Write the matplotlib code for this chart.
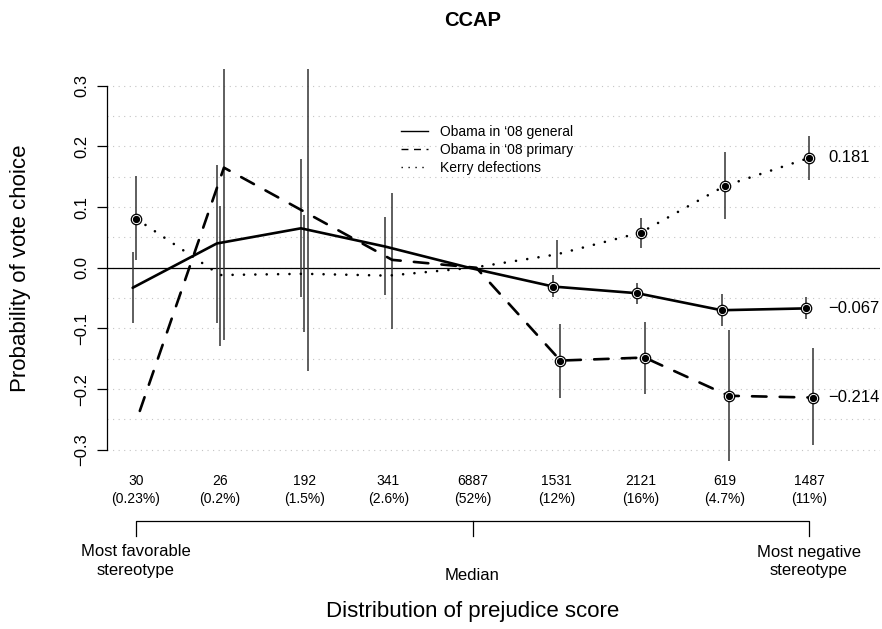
import numpy as np
import matplotlib.pyplot as plt
from matplotlib.lines import Line2D
from matplotlib import transforms

plt.rcParams['font.family'] = ['Liberation Sans', 'DejaVu Sans']

nan = np.nan

# group sizes along the prejudice score
counts = ['30', '26', '192', '341', '6887', '1531', '2121', '619', '1487']
shares = ['(0.23%)', '(0.2%)', '(1.5%)', '(2.6%)', '(52%)', '(12%)', '(16%)', '(4.7%)', '(11%)']

# Obama in '08 general
general = [-0.033, 0.040, 0.065, 0.035, 0.0, -0.031, -0.042, -0.070, -0.067]
general_lo = [-0.091, -0.091, -0.048, -0.045, nan, -0.049, -0.059, -0.096, -0.085]
general_hi = [0.026, 0.170, 0.179, 0.083, nan, -0.012, -0.025, -0.043, -0.048]

# Obama in '08 primary
primary = [-0.236, 0.165, 0.089, 0.013, 0.0, -0.153, -0.148, -0.211, -0.214]
primary_lo = [nan, -0.119, -0.171, -0.101, nan, -0.214, -0.208, -0.318, -0.292]
primary_hi = [nan, 0.45, 0.35, 0.124, nan, -0.093, -0.089, -0.103, -0.133]

# Kerry defections
kerry = [0.081, -0.012, -0.010, -0.013, 0.0, 0.022, 0.058, 0.135, 0.181]
kerry_lo = [0.013, -0.129, -0.106, nan, nan, -0.002, 0.032, 0.080, 0.145]
kerry_hi = [0.151, 0.101, 0.087, nan, nan, 0.046, 0.082, 0.190, 0.217]

W, H = 882, 629
fig = plt.figure(figsize=(W / 100, H / 100), dpi=100)
ax = fig.add_axes([107 / W, 1 - 466.5 / H, (880 - 107) / W, (466.5 - 69) / H])

x = np.arange(1, 10)
ax.set_xlim(0.655, 9.844)
ax.set_ylim(-0.3276, 0.3276)

# dotted grid + zero line
for v in np.arange(-0.3, 0.301, 0.05):
    ax.axhline(v, color='#c4c4c4', lw=0.8, ls=(0, (1, 4)), zorder=0)
ax.axhline(0, color='black', lw=0.9, zorder=1)

series = [
    (general, general_lo, general_hi, -0.04, '-', "Obama in \u201808 general"),
    (primary, primary_lo, primary_hi, 0.045, (0, (5.5, 5)), "Obama in \u201808 primary"),
    (kerry, kerry_lo, kerry_hi, 0.0, (0, (0.01, 4.3)), "Kerry defections"),
]

for est, lo, hi, off, ls, lab in series:
    xs = x + off
    ax.vlines(xs, lo, hi, color='#333333', lw=1.1, zorder=2)
for est, lo, hi, off, ls, lab in series:
    xs = x + off
    ax.plot(xs, est, color='black', lw=1.9, ls=ls, solid_capstyle='round',
            dash_capstyle='round', zorder=3)
    lo_a, hi_a, est_a = np.array(lo), np.array(hi), np.array(est)
    sig = (lo_a > 0) | (hi_a < 0)
    ax.plot(xs[sig], est_a[sig], 'o', ms=7.5, mfc='white', mec='black', mew=0.9, zorder=4)
    ax.plot(xs[sig], est_a[sig], 'o', ms=4.2, color='black', zorder=5)
    ax.text(9.23, est[-1], f"{est[-1]:.3f}".replace('-', '\u2212'), fontsize=12,
            ha='left', va='center')

for s in ['top', 'right', 'bottom']:
    ax.spines[s].set_visible(False)
ax.spines['left'].set_bounds(-0.3, 0.3)
ax.spines['left'].set_linewidth(0.9)
ax.set_xticks([])
ax.set_yticks(np.arange(-0.3, 0.301, 0.1))
ax.set_yticklabels(['\u22120.3', '\u22120.2', '\u22120.1', '0.0', '0.1', '0.2', '0.3'])
ax.tick_params(axis='y', length=7.5, width=0.9, pad=5, labelsize=12)
plt.setp(ax.get_yticklabels(), rotation=90, va='center')
ax.set_ylabel('Probability of vote choice', fontsize=16)
ax.yaxis.label.set_va('center')
ax.yaxis.set_label_coords(-(107 - 21) / (880 - 107), 0.5)

handles = [Line2D([], [], color='black', lw=1.0, ls=s[4]) for s in series]
handles[1].set_linestyle((0, (5, 4)))
handles[2].set_linestyle((0, (1, 4)))
ax.legend(handles, [s[5] for s in series], loc='upper left',
          bbox_to_anchor=(401 / W, 1 - 125 / H), bbox_transform=fig.transFigure,
          frameon=False, borderpad=0, borderaxespad=0, handlelength=1.95,
          handletextpad=0.85, labelspacing=0.3, fontsize=10)

# labels below the plot
T = transforms.blended_transform_factory(ax.transData, fig.transFigure)


def fy(px):
    return 1 - px / H


for xi, c, s in zip(x, counts, shares):
    ax.text(xi, fy(481), c, transform=T, fontsize=10, ha='center', va='center')
    ax.text(xi, fy(499), s, transform=T, fontsize=10, ha='center', va='center')

ax.plot([1, 1, 9, 9], [fy(536), fy(521), fy(521), fy(536)], color='black',
        lw=0.9, transform=T, clip_on=False)
ax.plot([5, 5], [fy(521), fy(536)], color='black', lw=0.9, transform=T, clip_on=False)

ax.text(1, fy(552), 'Most favorable', transform=T, fontsize=12, ha='center', va='center')
ax.text(1, fy(570), 'stereotype', transform=T, fontsize=12, ha='center', va='center')
ax.text(9, fy(552), 'Most negative', transform=T, fontsize=12, ha='center', va='center')
ax.text(9, fy(570), 'stereotype', transform=T, fontsize=12, ha='center', va='center')
ax.text(5, fy(576), 'Median', transform=T, fontsize=12, ha='center', va='center')
ax.text(5, fy(611), 'Distribution of prejudice score', transform=T, fontsize=16,
        ha='center', va='center')

fig.text(473 / W, fy(21), 'CCAP', fontsize=14.5, fontweight='bold', ha='center', va='center')

fig.savefig('out.png', dpi=100)
